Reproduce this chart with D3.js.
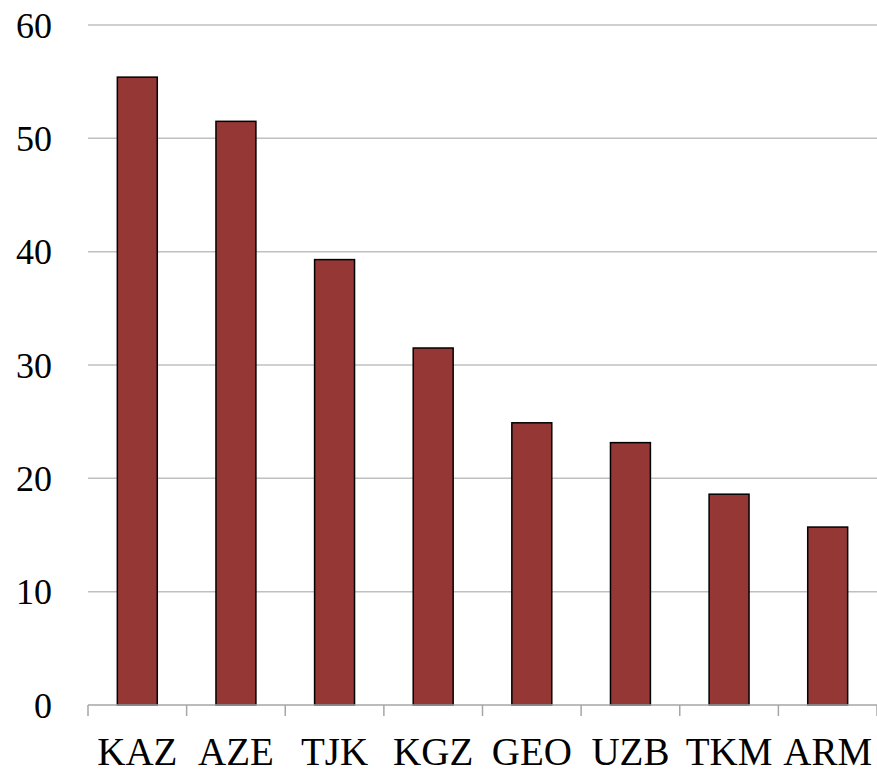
<!DOCTYPE html>
<html>
<head>
<meta charset="utf-8">
<script src="https://cdn.jsdelivr.net/npm/d3@7"></script>
<style>
  body { margin: 0; background: #fff; }
  text { font-family: "Liberation Serif", "DejaVu Serif", serif; fill: #000; }
</style>
</head>
<body>
<div id="chart"></div>
<script>
var countries = ["KAZ", "AZE", "TJK", "KGZ", "GEO", "UZB", "TKM", "ARM"];
var values = [55.4, 51.5, 39.3, 31.5, 24.9, 23.15, 18.6, 15.7];
var yTicks = [0, 10, 20, 30, 40, 50, 60];

var W = 877, H = 775;
var margin = {top: 25, right: 0, bottom: 70, left: 88};
var width = W - margin.left - margin.right;
var height = H - margin.top - margin.bottom;

var svg = d3.select("#chart").append("svg")
    .attr("width", W)
    .attr("height", H)
  .append("g")
    .attr("transform", "translate(" + margin.left + "," + margin.top + ")");

var x = d3.scaleBand()
    .domain(countries)
    .range([0, width])
    .paddingInner(0.595)
    .paddingOuter(0.2975);

var y = d3.scaleLinear()
    .domain([0, 60])
    .range([height, 0]);

// gridlines
svg.selectAll(".grid")
    .data(yTicks.filter(function(d) { return d > 0; }))
  .enter().append("line")
    .attr("class", "grid")
    .attr("x1", 0)
    .attr("x2", width)
    .attr("y1", function(d) { return y(d); })
    .attr("y2", function(d) { return y(d); })
    .attr("stroke", "#c0c0c0")
    .attr("stroke-width", 1.5);

// y labels
svg.selectAll(".ylab")
    .data(yTicks)
  .enter().append("text")
    .attr("class", "ylab")
    .attr("x", -36)
    .attr("y", function(d) { return y(d); })
    .attr("dy", "0.35em")
    .attr("text-anchor", "end")
    .style("font-size", "36px")
    .text(function(d) { return d; });

// bars
svg.selectAll(".bar")
    .data(values)
  .enter().append("rect")
    .attr("class", "bar")
    .attr("x", function(d, i) { return x(countries[i]); })
    .attr("width", x.bandwidth())
    .attr("y", function(d) { return y(d); })
    .attr("height", function(d) { return height - y(d); })
    .attr("fill", "#953735")
    .attr("stroke", "#000")
    .attr("stroke-width", 1.5);

// x axis line + category separators
var step = x.step();
svg.append("line")
    .attr("x1", 0).attr("x2", width)
    .attr("y1", height).attr("y2", height)
    .attr("stroke", "#a6a6a6")
    .attr("stroke-width", 1.5);

svg.selectAll(".xtick")
    .data(d3.range(countries.length + 1))
  .enter().append("line")
    .attr("class", "xtick")
    .attr("x1", function(i) { return i * step; })
    .attr("x2", function(i) { return i * step; })
    .attr("y1", height)
    .attr("y2", height + 11)
    .attr("stroke", "#a6a6a6")
    .attr("stroke-width", 1.5);

svg.selectAll(".xlab")
    .data(countries)
  .enter().append("text")
    .attr("class", "xlab")
    .attr("x", function(d) { return x(d) + x.bandwidth() / 2; })
    .attr("y", height + 60)
    .attr("text-anchor", "middle")
    .style("font-size", "39px")
    .text(function(d) { return d; });
</script>
</body>
</html>
